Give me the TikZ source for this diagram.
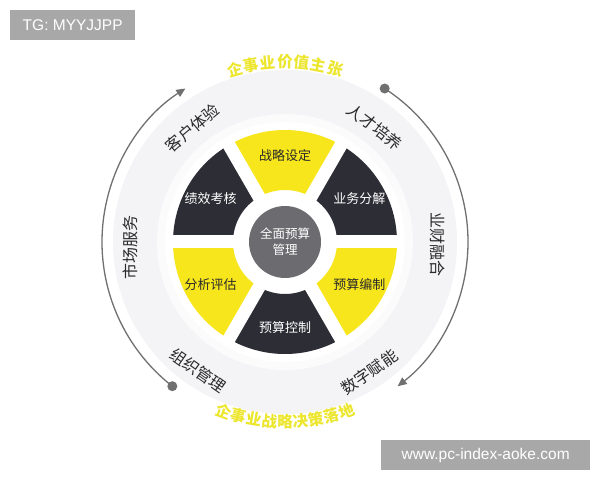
\documentclass[tikz,border=0pt]{standalone}
\usepackage{fontspec}
\setmainfont{Noto Sans CJK SC}
\newfontfamily\wmfont{Liberation Sans}
\usetikzlibrary{arrows.meta,calc}
\definecolor{segyellow}{HTML}{F7E61C}
\definecolor{segdark}{HTML}{2D2D36}
\definecolor{centergray}{HTML}{6C6C70}
\definecolor{ringgray}{HTML}{F4F4F7}
\definecolor{arcgray}{HTML}{707070}
\definecolor{txtyellow}{HTML}{EDE62E}
\definecolor{labelgray}{HTML}{2A2A2A}
\definecolor{wmgray}{HTML}{A8A8A8}
\tikzset{
  segtext/.style={font=\fontsize{13}{15}\selectfont, inner sep=0pt},
  outlabel/.style={font=\fontsize{16}{18}\selectfont, text=labelgray, inner sep=0pt},
  curvechar/.style={font=\fontsize{15.5}{17}\selectfont\bfseries, text=txtyellow, inner sep=0pt},
  arcline/.style={draw=arcgray, line width=1.3pt},
  wmbox/.style={fill=wmgray, inner sep=0pt, anchor=north west},
  wmtext/.style={font=\wmfont\fontsize{15.5}{17}\selectfont, text=white, inner sep=0pt}
}
\newcommand{\annsector}[3]{% color, a1, a2
  \fill[#1] (#2:52) -- (#2:112) arc[start angle=#2, end angle=#3, radius=112] -- (#3:52) arc[start angle=#3, end angle=#2, radius=52] -- cycle;}
\begin{document}
\begin{tikzpicture}[x=1pt,y=1pt]
\useasboundingbox (0,0) rectangle (600,480);
\fill[white] (0,0) rectangle (600,480);
\coordinate (C) at (285,238);
\begin{scope}[shift={(C)}]
  % light ring
  \fill[ringgray] (0,0) circle[radius=172];
  \fill[white!60!ringgray] (0,0) circle[radius=128];
  \fill[white] (0,0) circle[radius=120];
  % segments
  \annsector{segyellow}{60}{120}
  \annsector{segdark}{0}{60}
  \annsector{segyellow}{-60}{0}
  \annsector{segdark}{240}{300}
  \annsector{segyellow}{180}{240}
  \annsector{segdark}{120}{180}
  % white gaps
  \foreach \a in {0,60,120}{
    \draw[white, line width=13pt] (\a:118) -- (\a+180:118);
  }
  \fill[white] (0,0) circle[radius=50];
  % center
  \node[circle, fill=centergray, minimum size=72pt, inner sep=0pt, text=white,
        font=\fontsize{12.5}{16}\selectfont, align=center] (center) at (0,0) {全面预算\\管理};
  % segment texts
  \node[segtext, text=labelgray] (s1) at (90:86) {战略设定};
  \node[segtext, text=white] (s2) at (30:86) {业务分解};
  \node[segtext, text=labelgray] (s3) at (-30:86) {预算编制};
  \node[segtext, text=white] (s4) at (270:86) {预算控制};
  \node[segtext, text=labelgray] (s5) at (210:86) {分析评估};
  \node[segtext, text=white] (s6) at (150:86) {绩效考核};
  % outer labels
  \node[outlabel, rotate=40] (l1) at (129:147) {客户体验};
  \node[outlabel, rotate=-38] (l2) at (52:146) {人才培养};
  \node[outlabel, rotate=90] (l3) at (182:155) {市场服务};
  \node[outlabel, rotate=-90] (l4) at (-1:153) {业财融合};
  \node[outlabel, rotate=-35] (l5) at (236:155) {组织管理};
  \node[outlabel, rotate=35] (l6) at (303:155) {数字赋能};
  % arcs
  \coordinate (ls) at (232:183);
  \coordinate (rs) at (57:183);
  \draw[arcline, -{Triangle[length=9pt,width=8pt]}] (ls) arc[start angle=232, end angle=123, radius=183];
  \fill[arcgray] (ls) circle[radius=5];
  \draw[arcline, -{Triangle[length=9pt,width=8pt]}] (rs) arc[start angle=57, end angle=-52, radius=183];
  \fill[arcgray] (rs) circle[radius=5];
  % curved yellow texts
  \foreach \ch [count=\i from 0] in {企,事,业,价,值,主,张}{
    \pgfmathsetmacro{\ang}{90+(3-\i)*5.4}
    \node[curvechar, rotate=\ang-90] (t\i) at (\ang:180) {\ch};
  }
  \foreach \ch [count=\i from 0] in {企,事,业,战,略,决,策,落,地}{
    \pgfmathsetmacro{\ang}{270+(\i-4)*5.0}
    \node[curvechar, rotate=\ang-270] (b\i) at (\ang:180) {\ch};
  }
\end{scope}
% watermarks
\node[wmbox, minimum width=125pt, minimum height=30pt] (wm1) at (10,470) {};
\node[wmtext] (wm1t) at (wm1.center) {TG: MYYJJPP};
\node[wmbox, minimum width=209pt, minimum height=30pt] (wm2) at (381,40) {};
\node[wmtext] (wm2t) at (wm2.center) {www.pc-index-aoke.com};
\end{tikzpicture}
\end{document}
